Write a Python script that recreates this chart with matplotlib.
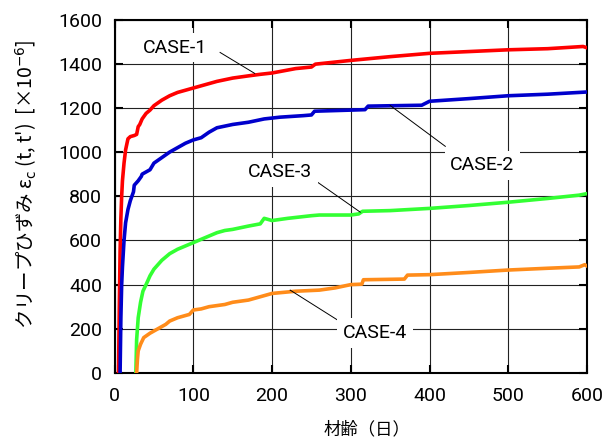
import matplotlib
matplotlib.use("Agg")
import matplotlib.pyplot as plt

plt.rcParams['font.family'] = ['Noto Sans CJK JP', 'DejaVu Sans']
plt.rcParams['mathtext.fontset'] = 'dejavusans'

# CASE-1 (red)
x1 = [5, 6, 7, 8, 9, 10, 12, 14, 17, 20, 25, 28, 30, 32, 35, 40, 45, 50, 60, 70, 80, 90, 100,
      115, 130, 150, 170, 185, 200, 230, 250, 255, 300, 350, 400, 450, 500, 550, 595, 600]
y1 = [0, 300, 550, 700, 800, 870, 950, 1010, 1060, 1070, 1075, 1080, 1115, 1125, 1150, 1175,
      1190, 1210, 1235, 1255, 1270, 1280, 1290, 1305, 1320, 1335, 1345, 1352, 1358, 1378, 1385,
      1398, 1415, 1432, 1447, 1455, 1463, 1468, 1478, 1472]

# CASE-2 (blue)
x2 = [7, 8, 9, 10, 12, 14, 17, 20, 24, 25, 30, 34, 35, 45, 50, 60, 70, 80, 90, 100, 110, 120,
      130, 150, 170, 190, 210, 240, 250, 254, 300, 318, 322, 390, 400, 450, 500, 550, 600]
y2 = [0, 250, 400, 480, 600, 680, 740, 780, 820, 850, 870, 890, 900, 920, 950, 975, 1000, 1020,
      1040, 1055, 1065, 1090, 1110, 1125, 1135, 1150, 1158, 1165, 1168, 1185, 1190, 1192, 1208,
      1212, 1230, 1242, 1255, 1262, 1272]

# CASE-3 (green)
x3 = [27, 28, 30, 33, 36, 40, 45, 50, 60, 70, 80, 90, 100, 110, 120, 130, 140, 150, 170, 185,
      190, 200, 220, 250, 260, 300, 310, 315, 350, 400, 450, 500, 550, 590, 600]
y3 = [0, 150, 250, 320, 370, 400, 440, 470, 510, 540, 560, 575, 590, 605, 620, 635, 645, 650,
      665, 675, 700, 690, 700, 712, 715, 715, 720, 732, 735, 745, 758, 773, 790, 805, 812]

# CASE-4 (orange)
x4 = [28, 29, 30, 33, 37, 41, 45, 50, 55, 60, 65, 70, 80, 90, 95, 100, 110, 120, 140, 150, 170,
      180, 200, 230, 260, 280, 300, 314, 316, 368, 372, 400, 450, 500, 550, 590, 597, 600]
y4 = [0, 60, 100, 130, 160, 170, 180, 190, 200, 210, 220, 235, 250, 260, 265, 285, 290, 300,
      310, 320, 330, 340, 360, 370, 375, 385, 400, 402, 422, 425, 443, 445, 455, 466, 474, 480,
      490, 484]

series = [(x1, y1, '#ff0000'), (x2, y2, '#0000cc'), (x3, y3, '#33ff33'), (x4, y4, '#ff8c1a')]

# label text, text position, leader line start, leader line end
labels = [
    ('CASE-1', (77, 1473), (134, 1451), (178, 1356)),
    ('CASE-2', (467, 940), (420, 1026), (350, 1211)),
    ('CASE-3', (210, 908), (258, 863), (312, 728)),
    ('CASE-4', (331, 181), (283, 240), (223, 375)),
]

fig = plt.figure(figsize=(6.16, 4.44), dpi=100)
ax = fig.add_axes([0.186, 0.160, 0.767, 0.796])

for xs, ys, c in series:
    ax.plot(xs, ys, color=c, lw=2.6, zorder=3, solid_joinstyle='round')

for txt, pos, p0, p1 in labels:
    ax.plot([p0[0], p1[0]], [p0[1], p1[1]], color='black', lw=0.7, zorder=4)
    ax.text(pos[0], pos[1], txt, fontsize=14, family='Roboto', ha='center', va='center', zorder=5,
            bbox=dict(facecolor='white', edgecolor='none', pad=4))

ax.set_xlim(0, 600)
ax.set_ylim(0, 1600)
ax.set_xticks(range(0, 601, 100))
ax.set_yticks(range(0, 1601, 200))
ax.grid(True, color='#222222', lw=0.8, zorder=1)
ax.set_axisbelow(True)
for s in ax.spines.values():
    s.set_linewidth(1.5)
ax.tick_params(direction='in', length=6, width=1.5, top=True, right=True, labelsize=14)
ax.tick_params(axis='x', pad=10)
ax.tick_params(axis='y', pad=9)
for lab in ax.get_xticklabels() + ax.get_yticklabels():
    lab.set_family('Roboto')

ax.set_xlabel('材齢（日）', fontsize=12.5)
ax.xaxis.set_label_coords(0.534, -0.135)
ax.set_ylabel("クリープひずみ ε$_\\mathrm{c}$ (t, t')  [×10$^{-6}$]", fontsize=14)
ax.yaxis.set_label_coords(-0.16, 0.535)

fig.savefig('out.png', dpi=100)
